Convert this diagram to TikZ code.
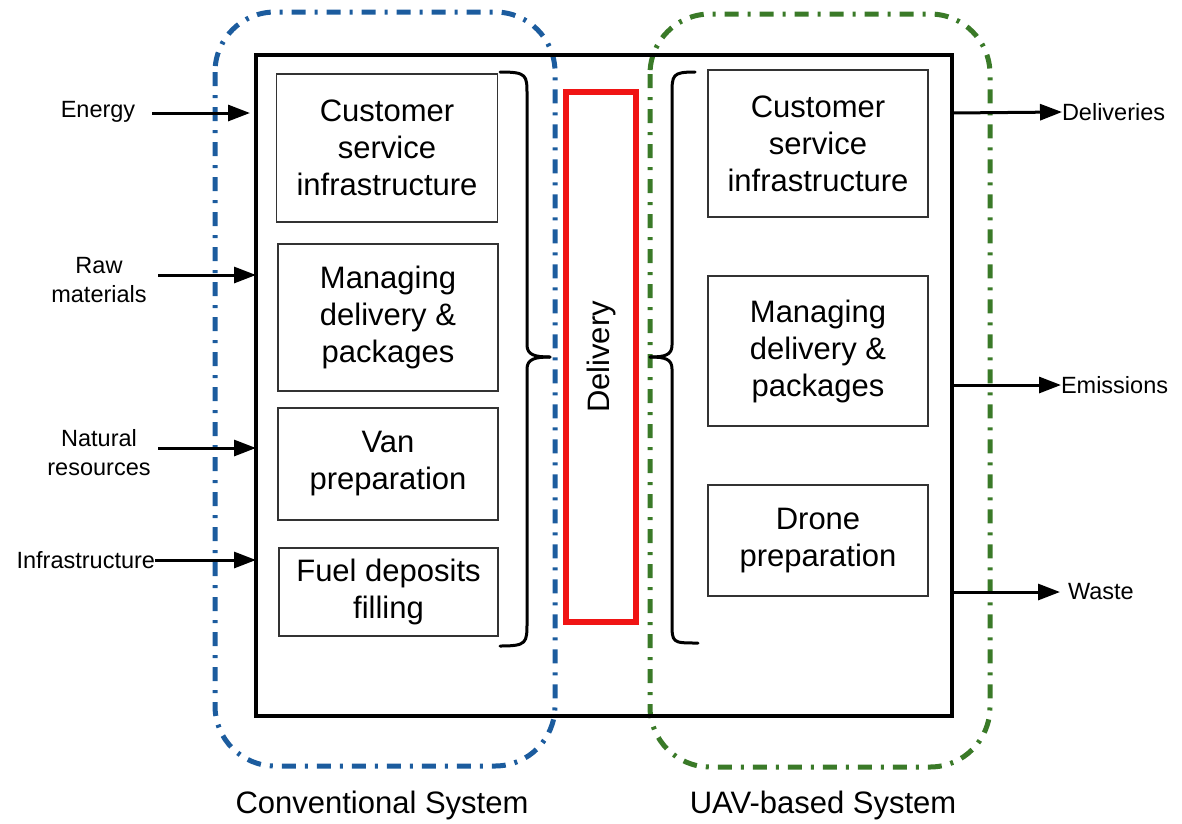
\documentclass[tikz,border=0pt]{standalone}
\usepackage{fontspec}
\setmainfont{Liberation Sans}
\usetikzlibrary{arrows.meta}
\definecolor{convblue}{RGB}{28,92,158}
\definecolor{uavgreen}{RGB}{58,122,40}
\definecolor{delred}{RGB}{240,20,20}
\begin{document}
\begin{tikzpicture}[x=1pt,y=-1pt,
  every node/.style={inner sep=0pt, outer sep=0pt},
  procbox/.style={draw=black!80, line width=1.5pt, align=center, font=\fontsize{31}{37}\selectfont},
  syslabel/.style={font=\fontsize{31}{34}\selectfont},
  iolabel/.style={align=center, font=\fontsize{23.5}{29}\selectfont},
  sysregion/.style={line width=5pt, rounded corners=60pt, dash pattern=on 14pt off 9pt on 3pt off 9pt},
  flow/.style={line width=3pt, -{Triangle[length=22pt,width=16pt]}},
  bracepath/.style={line width=3pt, line cap=round, line join=round}
]
\useasboundingbox (0,0) rectangle (1182,823);
% system regions
\draw[sysregion, convblue] (215,12) rectangle (555,766);
\draw[sysregion, uavgreen] (650,14) rectangle (990,767);
% main box
\node[draw, line width=4.5pt, minimum width=696pt, minimum height=661pt] (main) at (604,385.5) {};
% left boxes
\node[procbox, minimum width=221pt, minimum height=148pt] (lcs) at (387,148) {Customer\\service\\infrastructure};
\node[procbox, minimum width=220pt, minimum height=147pt] (lmd) at (388,317.5) {Managing\\delivery \&\\packages};
\node[procbox, minimum width=220pt, minimum height=112pt] (lvp) at (388,464) {Van\\preparation};
\node[procbox, minimum width=219pt, minimum height=88pt] (lfd) at (388.5,592) {Fuel deposits\\filling};
% right boxes
\node[procbox, minimum width=220pt, minimum height=147pt] (rcs) at (818,143.5) {Customer\\service\\infrastructure};
\node[procbox, minimum width=220pt, minimum height=150pt] (rmd) at (818,351) {Managing\\delivery \&\\packages};
\node[procbox, minimum width=220pt, minimum height=111pt] (rdp) at (818,540.5) {Drone\\preparation};
% delivery
\node[draw=delred, line width=6pt, minimum width=70pt, minimum height=530pt] (del) at (601,357) {};
\node[rotate=90, font=\fontsize{31}{34}\selectfont] (deltext) at (del.center) {Delivery};
% braces
\coordinate (lbtip) at (550,357);
\draw[bracepath] (500,72) .. controls (527,72) and (527,75) .. (527,95) -- (527,345) .. controls (527,355) and (535,357) .. (lbtip);
\draw[bracepath] (lbtip) .. controls (535,357) and (527,359) .. (527,369) -- (527,622) .. controls (527,643) and (527,646) .. (500,646);
\coordinate (rbtip) at (650,357);
\draw[bracepath] (695,72) .. controls (672,72) and (672,75) .. (672,95) -- (672,345) .. controls (672,355) and (665,357) .. (rbtip);
\draw[bracepath] (rbtip) .. controls (665,357) and (672,359) .. (672,369) -- (672,622) .. controls (672,643) and (672,643) .. (698,643);
% inputs
\node[iolabel] (energy) at (98,112) {Energy};
\node[iolabel] (raw) at (99,280) {Raw\\materials};
\node[iolabel] (natural) at (99,453) {Natural\\resources};
\node[iolabel, anchor=east] (infra) at (155,560) {Infrastructure};
\coordinate (inE) at (250,113);
\coordinate (inR) at (256,275);
\coordinate (inN) at (256,448);
\coordinate (inI) at (256,560);
\draw[flow] (152,113) -- (inE);
\draw[flow] (158,275) -- (inR);
\draw[flow] (158,448) -- (inN);
\draw[flow] (infra.east) -- (inI);
% outputs
\node[iolabel, anchor=west] (deliv) at (1062,112) {Deliveries};
\node[iolabel, anchor=west] (emis) at (1061,385) {Emissions};
\node[iolabel, anchor=west] (waste) at (1068,592) {Waste};
\coordinate (oD) at (952,113);
\coordinate (oE) at (952,385);
\coordinate (oW) at (952,592);
\draw[flow] (oD) -- (deliv.west);
\draw[flow] (oE) -- (emis.west);
\draw[flow] (oW) -- (1060,592);
% system labels
\node[syslabel] (convlabel) at (382,805) {Conventional System};
\node[syslabel] (uavlabel) at (823,805) {UAV-based System};
\end{tikzpicture}
\end{document}
